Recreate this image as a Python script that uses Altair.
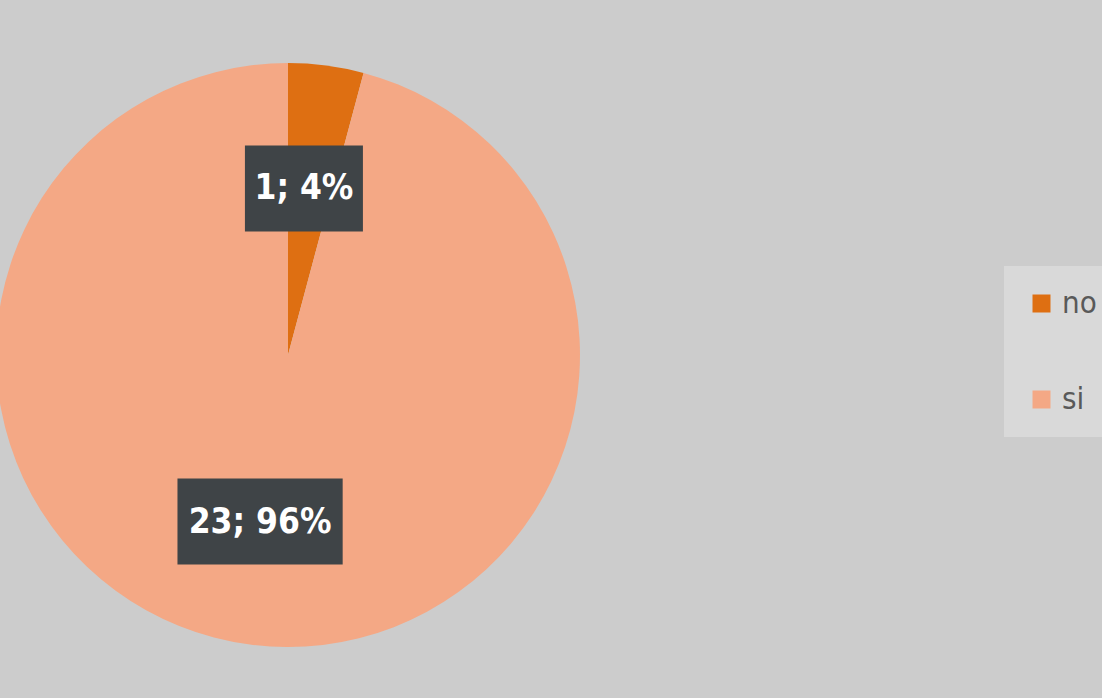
import altair as alt
import pandas as pd

categories = ["no", "si"]
counts = [1, 23]
labels = ["1; 4%", "23; 96%"]
colors = ["#de6f12", "#f4a885"]
order = [0, 1]

df = pd.DataFrame({"cat": categories, "n": counts, "label": labels, "order": order})

CX, CY, R, LR = 288, 355, 292, 168

base = alt.Chart(df)

color = alt.Color(
    "cat:N",
    scale=alt.Scale(domain=categories, range=colors),
    legend=alt.Legend(
        title=None,
        orient="none",
        legendX=1004,
        legendY=266,
        fillColor="#d9d9d9",
        padding=22,
        rowPadding=64,
        symbolType="square",
        symbolSize=324,
        symbolStrokeWidth=0,
        labelFontSize=31,
        labelColor="#595959",
        labelFont="DejaVu Sans Condensed",
        labelOffset=5,
        labelLimit=200,
    ),
)

pie = base.mark_arc(outerRadius=R, stroke=None).encode(
    theta=alt.Theta("n:Q", stack=True),
    color=color,
    order=alt.Order("order:Q"),
    x=alt.value(CX),
    y=alt.value(CY),
)

lab = (
    base.transform_joinaggregate(total="sum(n)")
    .transform_window(cum="sum(n)", sort=[alt.SortField("order")])
    .transform_calculate(
        mid="(datum.cum - datum.n/2)/datum.total*2*PI",
        px=f"{CX} - 6 + {LR}*sin(datum.mid)",
        py=f"{CY} - {LR}*cos(datum.mid)",
        hw="11.8*length(datum.label)",
    )
    .transform_calculate(
        x1="datum.px - datum.hw",
        x2="datum.px + datum.hw",
        y1="datum.py - 43",
        y2="datum.py + 43",
    )
)

box = lab.mark_rect(color="#3f4447").encode(
    x=alt.X("x1:Q", scale=None, axis=None),
    x2="x2:Q",
    y=alt.Y("y1:Q", scale=None, axis=None),
    y2="y2:Q",
)

txt = lab.mark_text(
    color="white", fontSize=35, fontWeight="bold", font="DejaVu Sans Condensed",
    baseline="middle", align="center",
).encode(
    x=alt.X("px:Q", scale=None, axis=None),
    y=alt.Y("py:Q", scale=None, axis=None),
    text="label:N",
)

chart = (
    alt.layer(pie, box, txt)
    .properties(width=1102, height=698, background="#cccccc", padding=0,
                autosize=alt.AutoSizeParams(type="none"))
    .configure_view(stroke=None)
)

chart.save("out.html", embed_options={"renderer": "svg", "actions": False})
